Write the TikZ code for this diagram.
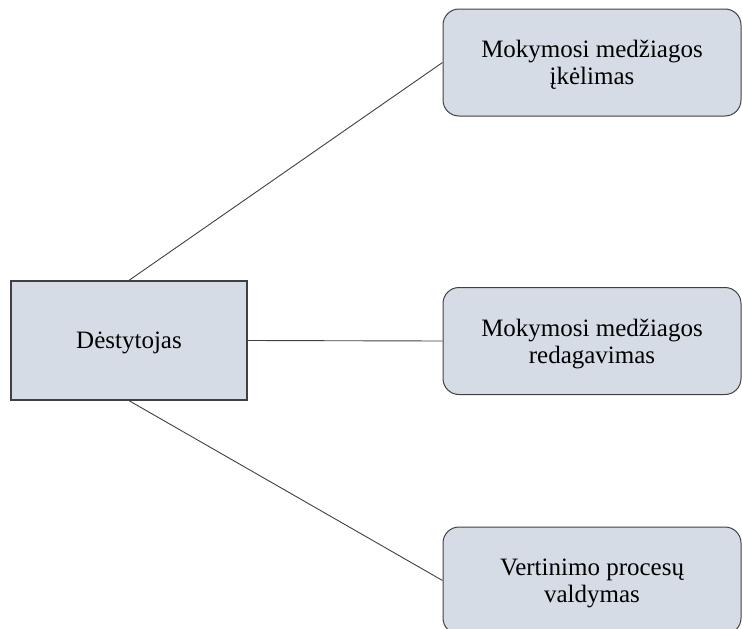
\documentclass[tikz,border=0pt]{standalone}
\usepackage{fontspec}
\setmainfont{Liberation Serif}
\definecolor{boxfill}{HTML}{D6DCE5}
\definecolor{boxline}{HTML}{404040}
\begin{document}
\begin{tikzpicture}[x=1pt,y=-1pt,
  every node/.style={font=\fontsize{25}{27}\selectfont, text=black, align=center, inner sep=0pt, text depth=0pt},
  actor/.style={draw=boxline, line width=1.3pt, fill=boxfill, minimum width=236pt, minimum height=119pt},
  task/.style={draw=boxline, line width=1pt, fill=boxfill, rounded corners=16pt, minimum width=298pt, minimum height=107pt},
  link/.style={draw=boxline, line width=0.9pt}]
  \useasboundingbox (0,0) rectangle (742,629);
  \node[actor] (teacher) at (129,340.5) {Dėstytojas};
  \node[task] (upload) at (592,62.5) {Mokymosi medžiagos\\įkėlimas};
  \node[task] (edit) at (592,341) {Mokymosi medžiagos\\redagavimas};
  \node[task] (assess) at (592,580.5) {Vertinimo procesų\\valdymas};
  \draw[link] (teacher.north) -- (upload.west);
  \draw[link] (teacher.east) -- (edit.west);
  \draw[link] (teacher.south) -- (assess.west);
\end{tikzpicture}
\end{document}
